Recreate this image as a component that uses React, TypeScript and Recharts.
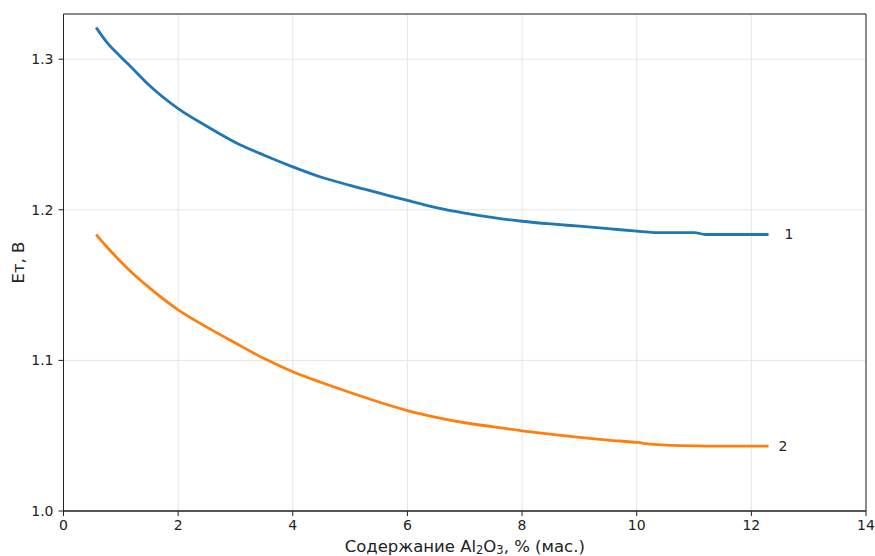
import React from 'react';
import { LineChart, Line, XAxis, YAxis, CartesianGrid, ReferenceArea, ReferenceDot, Label } from 'recharts';

const xValues = [0.57, 0.75, 1, 1.2, 1.5, 2, 2.5, 3, 3.5, 4, 4.5, 5, 5.5, 6, 6.5, 7, 7.5, 8, 8.5, 9, 9.5, 10, 10.3, 11, 11.2, 12.3];
const series1 = [1.321, 1.3115, 1.3015, 1.294, 1.2825, 1.2672, 1.2555, 1.2447, 1.2362, 1.2285, 1.2216, 1.2162, 1.2112, 1.2062, 1.2015, 1.1978, 1.1948, 1.1924, 1.1906, 1.1891, 1.1875, 1.1858, 1.1849, 1.1849, 1.1836, 1.1836];
const series2 = [1.1836, 1.1756, 1.1655, 1.158, 1.1482, 1.1336, 1.1221, 1.1115, 1.1012, 1.0925, 1.0853, 1.0787, 1.0724, 1.0667, 1.0622, 1.0586, 1.0559, 1.0532, 1.051, 1.0489, 1.0471, 1.0455, 1.0442, 1.0432, 1.0431, 1.0431];
const xTicks = [0, 2, 4, 6, 8, 10, 12, 14];
const yTicks = [1.0, 1.1, 1.2, 1.3];
const seriesLabels = ['1', '2'];

const data = xValues.map((x, i) => ({ x, s1: series1[i], s2: series2[i] }));

const FONT = 'DejaVu Sans';
const TEXT = '#222';

const XLabel = (props: any) => {
  const vb = props.viewBox || {};
  const cx = vb.x + vb.width / 2;
  const y = vb.y + 40.5;
  return (
    <text x={cx} y={y} textAnchor="middle" fontFamily={FONT} fontSize={16.5} fill={TEXT}>
      <tspan>Содержание Al</tspan>
      <tspan fontSize={11.5} dy={2.5}>2</tspan>
      <tspan dy={-2.5}>O</tspan>
      <tspan fontSize={11.5} dy={2.5}>3</tspan>
      <tspan dy={-2.5}>, % (мас.)</tspan>
    </text>
  );
};

const YLabel = (props: any) => {
  const vb = props.viewBox || {};
  const cy = vb.y + vb.height / 2;
  const x = 23.5;
  return (
    <text x={x} y={cy} textAnchor="middle" fontFamily={FONT} fontSize={16.5} fill={TEXT} transform={`rotate(-90, ${x}, ${cy})`}>
      Eт, В
    </text>
  );
};

export default function App() {
  const last = xValues.length - 1;
  return (
    <div style={{ position: 'absolute', left: 0, top: 0 }}>
      <LineChart width={875} height={556} data={data} margin={{ top: 14, right: 9, bottom: 0, left: 0 }}>
        <CartesianGrid stroke="#e6e6e6" strokeWidth={1} />
        <XAxis
          dataKey="x"
          type="number"
          domain={[0, 14]}
          ticks={xTicks}
          allowDataOverflow
          height={45}
          tickSize={5}
          tickMargin={4}
          stroke="#222"
          tick={{ fontFamily: FONT, fontSize: 14, fill: TEXT }}
          tickLine={{ stroke: '#222' }}
        >
          <Label content={<XLabel />} />
        </XAxis>
        <YAxis
          type="number"
          domain={[1.0, 1.33]}
          ticks={yTicks}
          allowDataOverflow
          width={63.5}
          tickSize={5}
          tickMargin={5}
          stroke="#222"
          tickFormatter={(v: number) => v.toFixed(1)}
          tick={{ fontFamily: FONT, fontSize: 14, fill: TEXT }}
          tickLine={{ stroke: '#222' }}
        >
          <Label content={<YLabel />} />
        </YAxis>
        <ReferenceArea x1={0} x2={14} y1={1.0} y2={1.33} fill="none" stroke="#222" strokeWidth={1} ifOverflow="extendDomain" />
        <Line type="monotone" dataKey="s1" stroke="#1f77b4" strokeWidth={2.8} dot={false} isAnimationActive={false} />
        <Line type="monotone" dataKey="s2" stroke="#ff7f0e" strokeWidth={2.8} dot={false} isAnimationActive={false} />
        <ReferenceDot x={xValues[last]} y={series1[last]} r={0} fill="none" stroke="none"
          label={{ value: seriesLabels[0], position: 'right', offset: 16, fontFamily: FONT, fontSize: 14, fill: TEXT }} />
        <ReferenceDot x={xValues[last]} y={series2[last]} r={0} fill="none" stroke="none"
          label={{ value: seriesLabels[1], position: 'right', offset: 10, fontFamily: FONT, fontSize: 14, fill: TEXT }} />
      </LineChart>
    </div>
  );
}
